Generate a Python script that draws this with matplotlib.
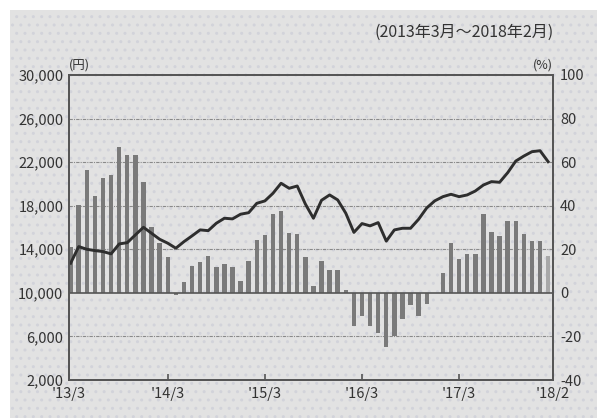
import matplotlib
matplotlib.use('Agg')
import matplotlib.pyplot as plt
from matplotlib.patches import Rectangle

plt.rcParams['font.family'] = ['Noto Sans CJK JP', 'DejaVu Sans']
plt.rcParams['axes.unicode_minus'] = False

# 日経平均（円）と前年同月比（%）
price = [12720, 14250, 14000, 13880, 13790, 13580, 14490, 14610, 15320, 16020,
         15470, 14920, 14560, 14100, 14700, 15230, 15780, 15710, 16390, 16850,
         16790, 17220, 17360, 18220, 18440, 19140, 20060, 19600, 19810, 18160,
         16850, 18500, 18990, 18530, 17310, 15550, 16360, 16150, 16450, 14750,
         15780, 15930, 15930, 16760, 17800, 18450, 18830, 19050, 18830, 18990,
         19350, 19900, 20210, 20150, 21030, 22100, 22560, 22960, 23050, 22040]
yoy = [21, 40.4, 56.4, 44.5, 52.6, 54, 66.8, 63.3, 63.3, 51,
       30.2, 23, 16.4, -1, 5, 12.5, 14, 16.7, 11.8, 13.2,
       11.8, 5.5, 14.8, 24.3, 26.6, 36.1, 37.8, 27.7, 27, 16.6,
       3.2, 14.5, 10.6, 10.6, 1.2, -15.4, -10.7, -15.2, -18.4, -24.8,
       -19.6, -12, -5.5, -10.6, -5, 0, 9.3, 22.9, 15.4, 17.9,
       17.9, 36.1, 28, 26, 32.8, 32.8, 26.9, 24, 24, 16.8]
xlabels = ["'13/3", "'14/3", "'15/3", "'16/3", "'17/3", "'18/2"]
xlabel_pos = [-0.2, 12, 24, 36, 48, 59.6]
yen_ticks = [2000, 6000, 10000, 14000, 18000, 22000, 26000, 30000]
pct_ticks = [-40, -20, 0, 20, 40, 60, 80, 100]

fig = plt.figure(figsize=(5.97, 4.18), dpi=100)
fig.patch.set_facecolor('white')
# 背景の網掛け
bg = Rectangle((10 / 597, 0), 1, 1 - 10 / 418, transform=fig.transFigure,
               facecolor='#e2e2e2', edgecolor='#d2d3da', hatch='..', lw=0, zorder=-10)
fig.patches.append(bg)

ax = fig.add_axes([69 / 597, 1 - 380 / 418, (553 - 69) / 597, (380 - 75) / 418])
ax2 = ax.twinx()
ax.set_zorder(ax2.get_zorder() + 1)
ax.patch.set_visible(False)
ax2.patch.set_facecolor('white')

x = list(range(len(price)))
colors = ['#7a7a7a'] * (len(yoy) - 1) + ['#a8a8a8']
ax2.bar(x, yoy, width=0.55, color=colors, zorder=2)
for g in [-20, 20, 40, 60, 80]:
    ax2.axhline(g, color='#8a8a8a', lw=0.8, ls=(0, (3, 1, 1, 1)), zorder=1)
ax2.axhline(0, color='#555555', lw=1.2, zorder=3)

ax.plot(x, price, color='#2e2e2e', lw=2.1, solid_joinstyle='round')

ax.set_xlim(-0.2, 59.6)
ax.set_ylim(2000, 30000)
ax2.set_ylim(-40, 100)
ax.set_yticks(yen_ticks)
ax.set_yticklabels([f'{v:,}' for v in yen_ticks])
ax2.set_yticks(pct_ticks)
ax2.set_yticklabels([str(v) for v in pct_ticks])
ax.set_xticks(xlabel_pos)
ax.set_xticklabels(xlabels)

for a in (ax, ax2):
    for s in a.spines.values():
        s.set_color('#555555')
        s.set_linewidth(1.3)
ax.tick_params(axis='y', length=0, pad=4, labelsize=10.5, colors='#333333')
ax2.tick_params(axis='y', length=0, pad=5, labelsize=10.5, colors='#333333')
ax.tick_params(axis='x', direction='in', length=4, width=1.2, color='#555555',
               pad=5, labelsize=10.5, labelcolor='#333333')

ax.text(0.0, 1.01, '(円)', transform=ax.transAxes, ha='left', va='bottom',
        fontsize=9, color='#333333')
ax.text(1.0, 1.01, '(%)', transform=ax.transAxes, ha='right', va='bottom',
        fontsize=9, color='#333333')
fig.text(554 / 597, 1 - 32 / 418, '(2013年3月～2018年2月)', ha='right', va='center',
         fontsize=11.5, color='#333333')

fig.savefig('out.png', dpi=100)
